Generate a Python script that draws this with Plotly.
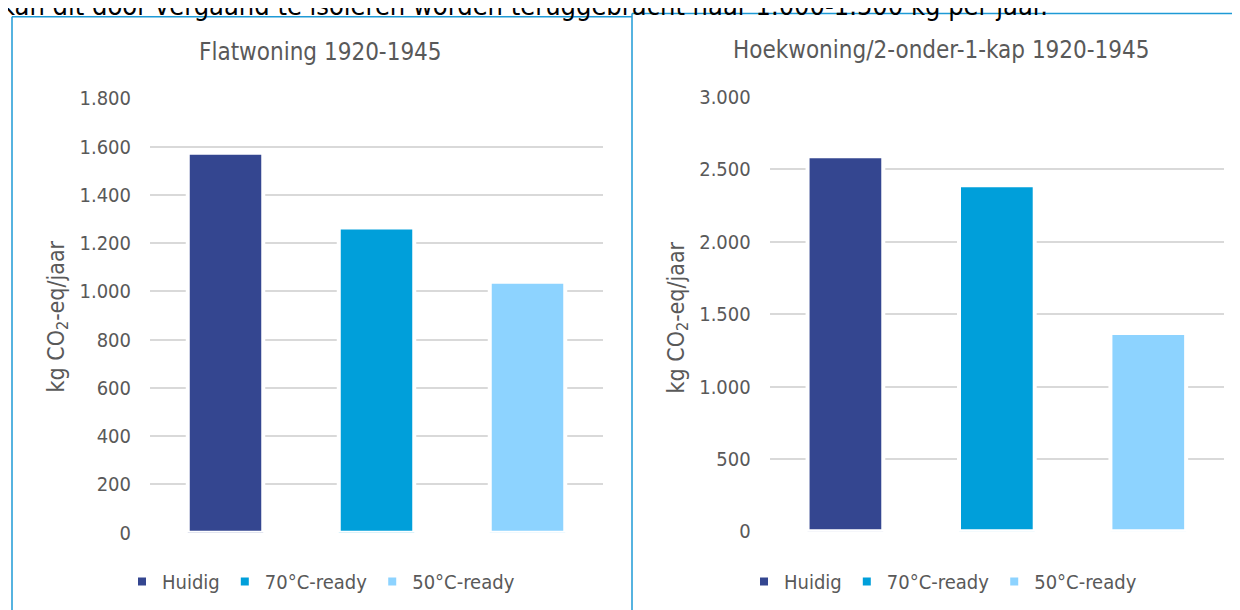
import plotly.graph_objects as go

W, H = 1240, 610
OFF = 8  # page body margin in the browser

# ---- data ----
series = ["Huidig", "70°C-ready", "50°C-ready"]
colors = ["#344690", "#009FDA", "#8DD3FF"]
flat_values = [1575, 1265, 1040]
hoek_values = [2590, 2390, 1370]
flat_title = "Flatwoning 1920-1945"
hoek_title = "Hoekwoning/2-onder-1-kap 1920-1945"
y_title = "kg CO<sub>2</sub>-eq/jaar"
top_text = "kan dit door vergaand te isoleren worden teruggebracht naar 1.000-1.500 kg per jaar."

FONT = "DejaVu Sans Condensed, DejaVu Sans, sans-serif"
GREY = "#595959"
FRAME = "#1E9AD6"


def px_x(p):
    return (p - OFF) / W


def px_y(p):
    return 1 - (p - OFF) / H


fig = go.Figure()

for name, col, v in zip(series, colors, flat_values):
    fig.add_trace(go.Bar(
        x=[name], y=[v], name=name, width=0.5,
        marker=dict(color=col, line=dict(color="white", width=4)),
        xaxis="x", yaxis="y", legend="legend",
    ))
for name, col, v in zip(series, colors, hoek_values):
    fig.add_trace(go.Bar(
        x=[name], y=[v], name=name, width=0.5,
        marker=dict(color=col, line=dict(color="white", width=4)),
        xaxis="x2", yaxis="y2", legend="legend2",
    ))

xa = dict(showticklabels=False, showgrid=False, zeroline=False, showline=False,
          ticks="", categoryorder="array", categoryarray=series)
ya = dict(showgrid=True, gridcolor="#D9D9D9", gridwidth=2, zeroline=False,
          showline=False, ticks="", ticklabelstandoff=18, separatethousands=True,
          tickfont=dict(size=20, color=GREY, family=FONT))

fig.update_layout(
    width=W, height=H,
    margin=dict(l=0, r=0, t=0, b=0, autoexpand=False),
    paper_bgcolor="white", plot_bgcolor="white",
    separators=",.",
    barmode="overlay",
    font=dict(family=FONT, color=GREY, size=20),
    xaxis=dict(domain=[px_x(150), px_x(603)], anchor="y", **xa),
    yaxis=dict(domain=[px_y(532.7), px_y(98.4)], anchor="x", range=[0, 1800], dtick=200, **ya),
    xaxis2=dict(domain=[px_x(769.7), px_x(1224)], anchor="y2", **xa),
    yaxis2=dict(domain=[px_y(531.3), px_y(96.9)], anchor="x2", range=[0, 3000], dtick=500, **ya),
    legend=dict(orientation="h", x=px_x(321), xanchor="center", y=px_y(581.5), yanchor="middle",
                font=dict(size=20, color=GREY, family=FONT), bgcolor="rgba(0,0,0,0)"),
    legend2=dict(orientation="h", x=px_x(943), xanchor="center", y=px_y(581.5), yanchor="middle",
                 font=dict(size=20, color=GREY, family=FONT), bgcolor="rgba(0,0,0,0)"),
    showlegend=True,
)

annotations = [
    dict(text=flat_title, x=px_x(320.5), y=px_y(52), xanchor="center", yanchor="middle",
         font=dict(size=24, color=GREY, family=FONT)),
    dict(text=hoek_title, x=px_x(942), y=px_y(49.5), xanchor="center", yanchor="middle",
         font=dict(size=24, color=GREY, family=FONT)),
    dict(text=y_title, x=px_x(57.5), y=px_y(317), textangle=-90, xanchor="center", yanchor="middle",
         font=dict(size=23, color=GREY, family=FONT)),
    dict(text=y_title, x=px_x(677.5), y=px_y(318), textangle=-90, xanchor="center", yanchor="middle",
         font=dict(size=23, color=GREY, family=FONT)),
    dict(text=top_text, x=px_x(-1), y=px_y(23), xanchor="left", yanchor="bottom",
         font=dict(size=27, color="black", family=FONT)),
]
for a in annotations:
    a.update(xref="paper", yref="paper", showarrow=False)
fig.update_layout(annotations=annotations)

shapes = [
    # left chart frame
    dict(type="line", x0=px_x(12), x1=px_x(632), y0=px_y(16.7), y1=px_y(16.7)),
    dict(type="line", x0=px_x(12), x1=px_x(12), y0=px_y(16.7), y1=px_y(625)),
    # right chart frame
    dict(type="line", x0=px_x(632), x1=px_x(1260), y0=px_y(13.5), y1=px_y(13.5)),
    dict(type="line", x0=px_x(632), x1=px_x(632), y0=px_y(13.5), y1=px_y(625)),
]
for s in shapes:
    s.update(xref="paper", yref="paper", line=dict(color=FRAME, width=1.5), layer="above")
fig.update_layout(shapes=shapes)

fig.write_html("out.html")
